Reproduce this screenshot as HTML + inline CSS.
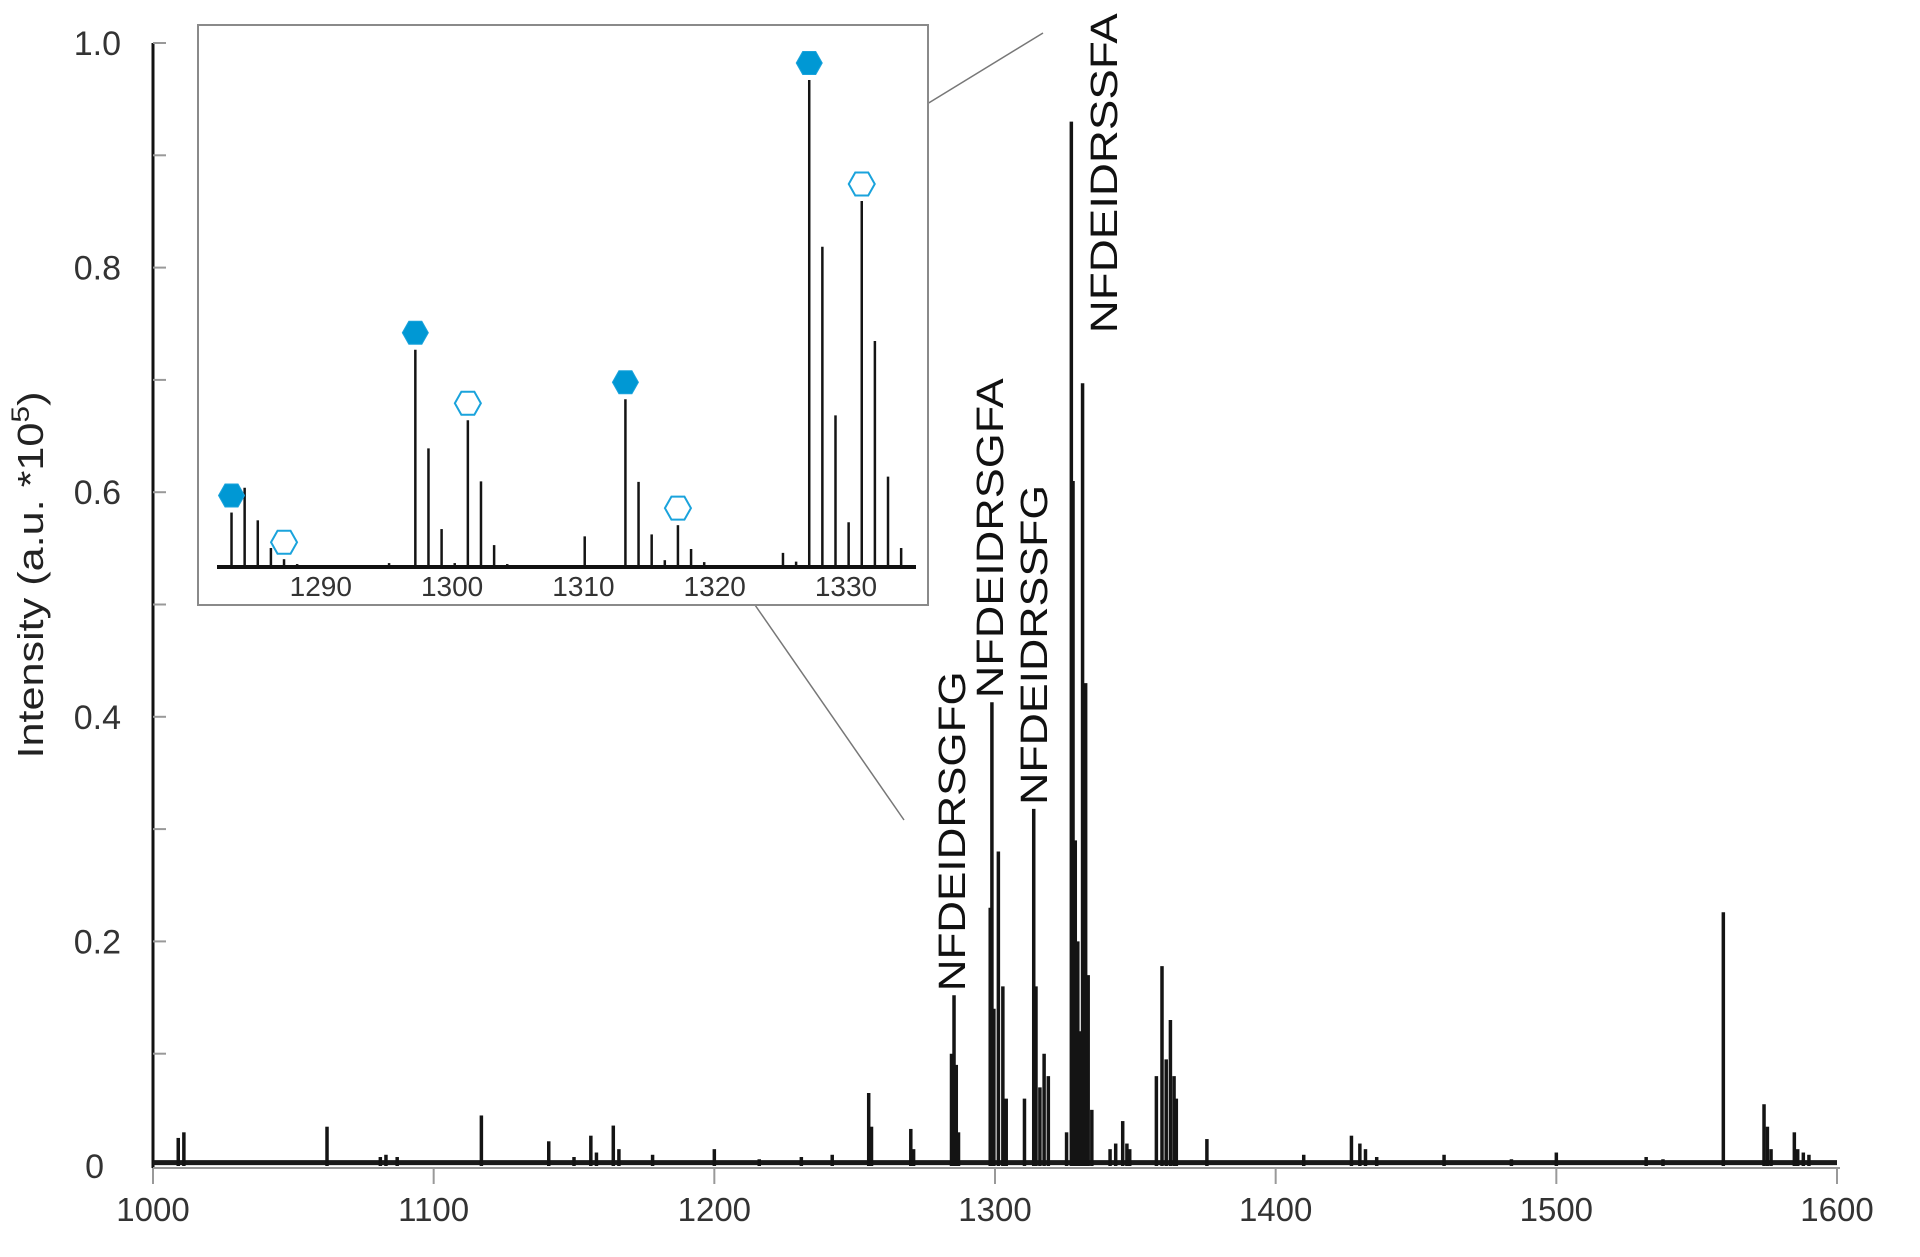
<!DOCTYPE html>
<html><head><meta charset="utf-8"><style>
html,body{margin:0;padding:0;background:#fff;}
svg{display:block;font-family:"Liberation Sans",sans-serif;}
</style></head><body>
<svg id="chart" width="1920" height="1257" viewBox="0 0 1920 1257" xmlns="http://www.w3.org/2000/svg"></svg>
<script>
// main spectrum data
const mainMz = [1009,1011,1062,1081,1083,1087,1117,1141,1150,1156,1158,1164,1166,1178,1200,1216,1231,1242,1255,1256,1270,1271,1284.5,1285.4,1286.2,1287,1298.3,1298.9,1299.6,1301.2,1302.8,1304,1310.5,1313.8,1314.6,1316,1317.5,1319,1325.5,1327.2,1327.8,1328.6,1329.5,1330.2,1331.2,1332.3,1333.2,1334.5,1341,1343,1345.5,1347,1348,1357.5,1359.5,1361,1362.5,1363.8,1364.6,1375.5,1410,1427,1430,1432,1436,1460,1484,1500,1532,1538,1559.5,1574,1575.2,1576.5,1584.8,1586,1588,1590];
const mainIntensity = [0.025,0.03,0.035,0.008,0.01,0.008,0.045,0.022,0.008,0.027,0.012,0.036,0.015,0.01,0.015,0.006,0.008,0.01,0.065,0.035,0.033,0.015,0.10,0.152,0.09,0.03,0.23,0.413,0.14,0.28,0.16,0.06,0.06,0.318,0.16,0.07,0.10,0.08,0.03,0.93,0.61,0.29,0.20,0.12,0.697,0.43,0.17,0.05,0.015,0.02,0.04,0.02,0.015,0.08,0.178,0.095,0.13,0.08,0.06,0.024,0.01,0.027,0.02,0.015,0.008,0.01,0.006,0.012,0.008,0.006,0.226,0.055,0.035,0.015,0.03,0.015,0.012,0.01];
const mainXTicks = [1000,1100,1200,1300,1400,1500,1600];
const mainYTicks = [0,0.2,0.4,0.6,0.8,1.0];
const mainYTickLabels = ["0","0.2","0.4","0.6","0.8","1.0"];
// inset data
const insetMz = [1283.2,1284.2,1285.2,1286.2,1287.2,1288.2,1295.2,1297.2,1298.2,1299.2,1300.2,1301.2,1302.2,1303.2,1304.2,1310.1,1313.2,1314.2,1315.2,1316.2,1317.2,1318.2,1319.2,1325.2,1326.2,1327.2,1328.2,1329.2,1330.2,1331.2,1332.2,1333.2,1334.2];
const insetIntensity = [0.110,0.161,0.094,0.037,0.014,0.004,0.006,0.445,0.242,0.076,0.006,0.300,0.174,0.043,0.004,0.061,0.343,0.173,0.065,0.012,0.084,0.035,0.008,0.027,0.009,1.0,0.657,0.310,0.090,0.751,0.463,0.184,0.037];
const filledMarkerMz = [1283.2,1297.2,1313.2,1327.2];
const openMarkerMz = [1287.2,1301.2,1317.2,1331.2];
const insetXTicks = [1290,1300,1310,1320,1330];
const peakLabels = ["NFDEIDRSGFG","NFDEIDRSGFA","NFDEIDRSSFG","NFDEIDRSSFA"];
const peakLabelMz = [1285.4,1298.9,1314.6,1339.5];
const peakLabelIntensity = [0.152,0.413,0.318,0.738];

const NS="http://www.w3.org/2000/svg";
const svg=document.getElementById('chart');
function mk(tag,attrs,parent){const e=document.createElementNS(NS,tag);for(const k in attrs)e.setAttribute(k,attrs[k]);(parent||svg).appendChild(e);return e;}
const X=m=>153+(m-1000)*(1684/600);
const Y=v=>1166-v*1123;
const IX=m=>320.8+(m-1290)*13.13;
const IY=v=>566-v*486;

// axes
let el=mk('line',{x1:153,y1:43,x2:153,y2:1168,stroke:'#111','stroke-width':3});


el=mk('line',{x1:153,y1:1168,x2:1840,y2:1168,stroke:'#999','stroke-width':2});


for(let v=0.1;v<1.0;v+=0.1){
  el=mk('line',{x1:153,y1:Y(v),x2:166,y2:Y(v),stroke:'#999','stroke-width':2});
  
  
}
mainYTicks.forEach((v,i)=>{
  const t=mk('text',{x:i===0?104:121,y:Y(v)+12,'text-anchor':'end','font-size':34,fill:'#333'});
  t.textContent=mainYTickLabels[i];
  
  
});
mainXTicks.forEach(m=>{
  const l=mk('line',{x1:X(m),y1:1168,x2:X(m),y2:1184,stroke:'#999','stroke-width':2});
  
  
  const t=mk('text',{x:X(m),y:1221,'text-anchor':'middle','font-size':33,fill:'#333'});
  t.textContent=m;
  
  
});
el=mk('text',{x:0,y:0,transform:'translate(43,575) rotate(-90)','text-anchor':'middle','font-size':36,fill:'#222',textLength:367,lengthAdjust:'spacingAndGlyphs'});
el.innerHTML='Intensity (a.u. *10<tspan dy="-14" font-size="25">5</tspan><tspan dy="14">)</tspan>';


el=mk('text',{x:986,y:1282,'text-anchor':'middle','font-size':34,fill:'#222','font-style':'italic'});
el.textContent='m/z';



// baseline noise
el=mk('line',{x1:153,y1:Y(0.003),x2:1837,y2:Y(0.003),stroke:'#1a1a1a','stroke-width':5});


mainMz.forEach((m,i)=>{
  const l=mk('line',{x1:X(m),y1:Y(0),x2:X(m),y2:Y(mainIntensity[i]),stroke:'#141414','stroke-width':3.5});
  
  
});
peakLabels.forEach((s,i)=>{
  const cx=X(peakLabelMz[i])-2, by=Y(peakLabelIntensity[i])-4;
  const t=mk('text',{x:0,y:0,transform:`translate(${cx+13},${by}) rotate(-90)`,'font-size':38,fill:'#111',textLength:320,lengthAdjust:'spacingAndGlyphs'});
  t.textContent=s;
  
  
});

// zoom connector lines
el=mk('line',{x1:927,y1:104,x2:1043,y2:33,stroke:'#777','stroke-width':1.5});


el=mk('line',{x1:755,y1:605,x2:904,y2:820,stroke:'#777','stroke-width':1.5});



// inset
const g=mk('g',{});


mk('rect',{x:198,y:25,width:730,height:580,fill:'#fff',stroke:'#8a8a8a','stroke-width':2},g);
el=mk('line',{x1:217,y1:567,x2:916,y2:567,stroke:'#111','stroke-width':4},g);


insetXTicks.forEach(m=>{
  const t=mk('text',{x:IX(m),y:596,'text-anchor':'middle','font-size':28,fill:'#333'},g);
  t.textContent=m;
  
  
});
insetMz.forEach((m,i)=>{
  const l=mk('line',{x1:IX(m),y1:IY(0),x2:IX(m),y2:IY(insetIntensity[i]),stroke:'#141414','stroke-width':2.5},g);
  
  
});
function hex(cx,cy,filled){
  const w=13,h=11.5;
  const pts=[[cx-w,cy],[cx-w/2,cy-h],[cx+w/2,cy-h],[cx+w,cy],[cx+w/2,cy+h],[cx-w/2,cy+h]].map(p=>p.join(',')).join(' ');
  return mk('polygon',{points:pts,fill:filled?'#0098d4':'#fff',stroke:'#1aa3dc','stroke-width':filled?1:2},g);
}
filledMarkerMz.forEach(m=>{
  const i=insetMz.indexOf(m);
  const p=hex(IX(m),IY(insetIntensity[i])-17,true);
  
  
});
openMarkerMz.forEach(m=>{
  const i=insetMz.indexOf(m);
  const p=hex(IX(m),IY(insetIntensity[i])-17,false);
  
  
});
</script>
</body></html>
